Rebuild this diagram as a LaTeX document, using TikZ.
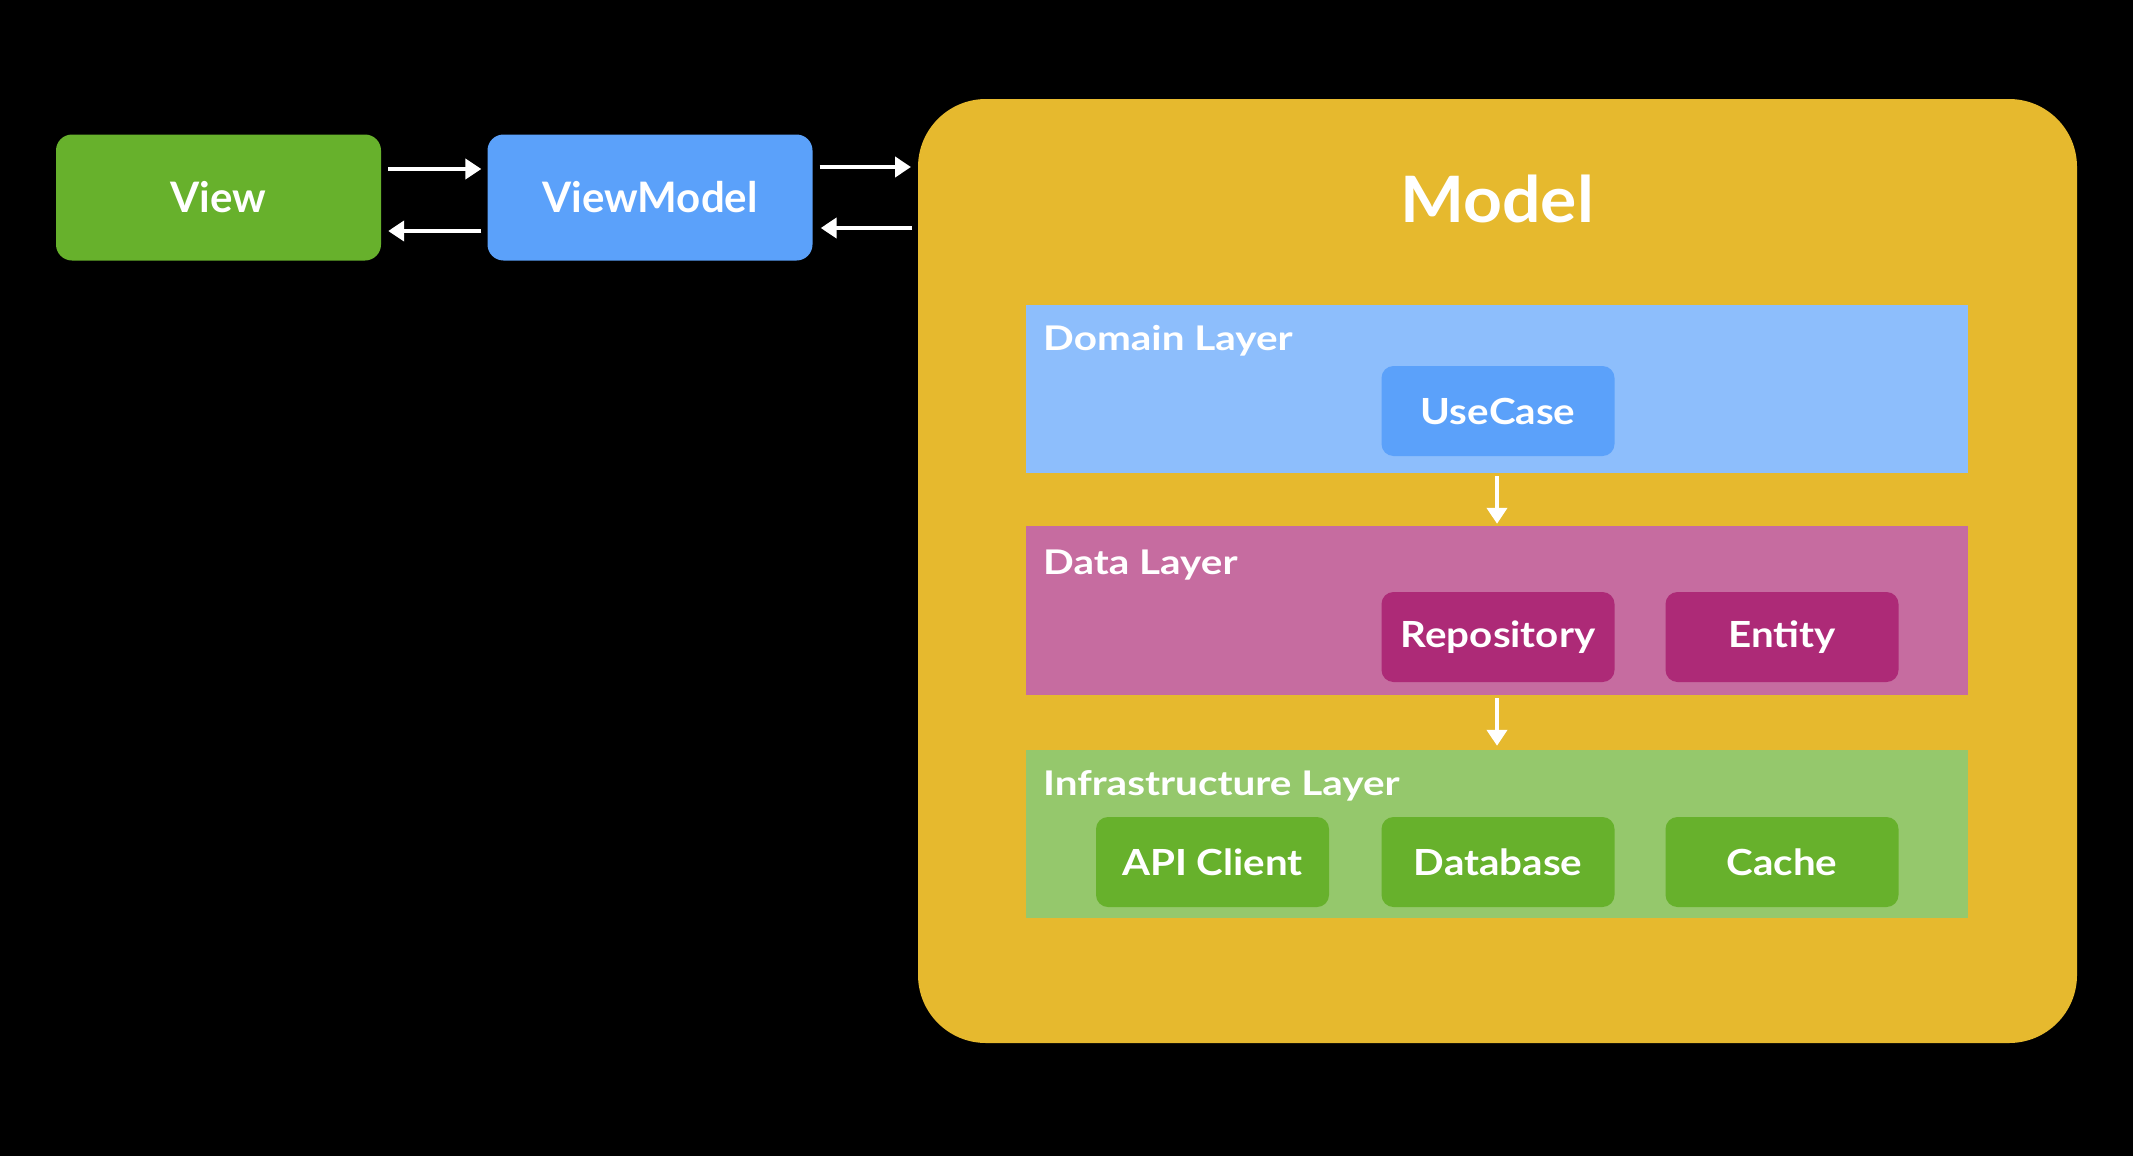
\documentclass[tikz,border=0pt]{standalone}
\usepackage{fontspec}
\setmainfont{Lato}
\newfontfamily\labelfont[FakeStretch=1.19]{Lato}
\newfontfamily\innerfont[FakeStretch=1.12]{Lato}
\newfontfamily\titlefont[FakeStretch=1.06]{Lato}
\usetikzlibrary{arrows.meta}
\definecolor{bg}{HTML}{000000}
\definecolor{viewgreen}{HTML}{67B12C}
\definecolor{vmblue}{HTML}{5BA1FA}
\definecolor{modelyellow}{HTML}{E6B92E}
\definecolor{domainblue}{HTML}{8DBEFC}
\definecolor{datapink}{HTML}{C66CA0}
\definecolor{repomagenta}{HTML}{AD2A77}
\definecolor{infragreen}{HTML}{95C86C}
\tikzset{
  box/.style={rounded corners=16pt, text=white, font=\bfseries\fontsize{42}{50}\selectfont, minimum width=325pt, minimum height=126pt, inner sep=0pt},
  inbox/.style={rounded corners=12pt, text=white, font=\innerfont\bfseries\fontsize{36}{42}\selectfont, minimum width=233pt, minimum height=90pt, inner sep=0pt},
  layer/.style={minimum width=942pt, inner sep=0pt},
  layerlabel/.style={anchor=base west, text=white, font=\labelfont\bfseries\fontsize{34}{40}\selectfont, inner sep=0pt},
  arr/.style={draw=white, line width=4pt, -{Triangle[length=16pt,width=20pt]}}
}
\begin{document}
\begin{tikzpicture}[x=1pt,y=-1pt]
\fill[bg] (0,0) rectangle (2133,1156);
\useasboundingbox (0,0) rectangle (2133,1156);

\node[box, fill=viewgreen] (view) at (218.5,197.5) {View};
\node[box, fill=vmblue] (vm) at (650,197.5) {ViewModel};

\fill[modelyellow, rounded corners=68pt] (918,99) rectangle (2077,1043);
\coordinate (modelW) at (918,197.5);
\node[text=white, font=\titlefont\bfseries\fontsize{64}{76}\selectfont, inner sep=0pt] (modeltitle) at (1497,199) {Model};

\node[layer, fill=domainblue, minimum height=168pt] (domain) at (1497,389) {};
\node[layerlabel] (domainlbl) at (1043,350) {Domain Layer};
\node[inbox, fill=vmblue] (usecase) at (1498,411) {UseCase};

\node[layer, fill=datapink, minimum height=169pt] (data) at (1497,610.5) {};
\node[layerlabel] (datalbl) at (1043,574) {Data Layer};
\node[inbox, fill=repomagenta] (repo) at (1498,637) {Repository};
\node[inbox, fill=repomagenta] (entity) at (1782,637) {Entity};

\node[layer, fill=infragreen, minimum height=168pt] (infra) at (1497,834) {};
\node[layerlabel] (infralbl) at (1043,795) {Infrastructure Layer};
\node[inbox, fill=viewgreen] (api) at (1212.5,862) {API Client};
\node[inbox, fill=viewgreen] (db) at (1498,862) {Database};
\node[inbox, fill=viewgreen] (cache) at (1782,862) {Cache};

% connectors
\draw[arr] ([xshift=7pt,yshift=28.5pt]view.east) -- ([xshift=-6pt,yshift=28.5pt]vm.west);
\draw[arr] ([xshift=-6pt,yshift=-33.5pt]vm.west) -- ([xshift=7pt,yshift=-33.5pt]view.east);
\draw[arr] ([xshift=7pt,yshift=30.5pt]vm.east) -- ([xshift=-7pt,yshift=30.5pt]modelW);
\draw[arr] ([xshift=-6pt,yshift=-30.5pt]modelW) -- ([xshift=8pt,yshift=-30.5pt]vm.east);
\draw[arr] ([yshift=-3pt]domain.south) -- ([yshift=2pt]data.north);
\draw[arr] ([yshift=-3pt]data.south) -- ([yshift=4pt]infra.north);
\end{tikzpicture}
\end{document}
